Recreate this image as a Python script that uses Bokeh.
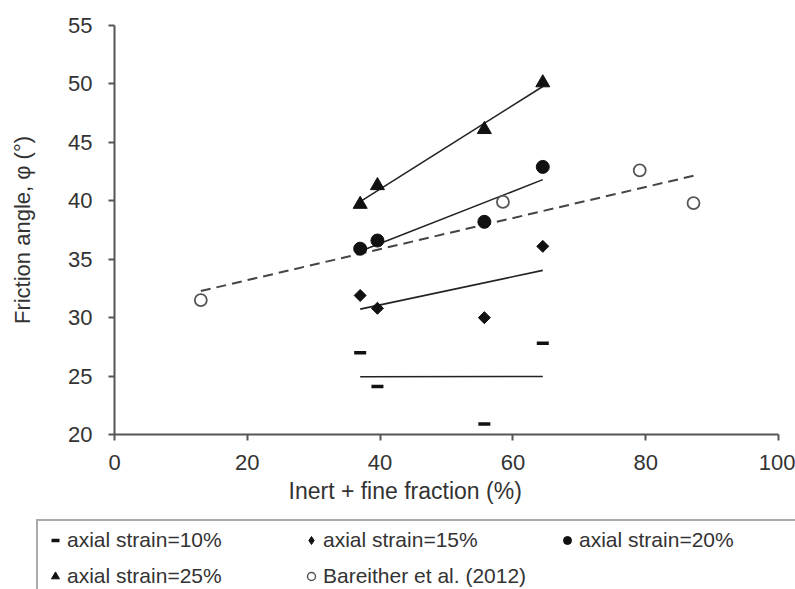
import numpy as np
from bokeh.plotting import figure
from bokeh.layouts import column, row
from bokeh.models import Range1d, FixedTicker, Legend, LegendItem, Title
from bokeh.embed import file_html
from bokeh.resources import INLINE

# ---- data ----
x_strain = [37.0, 39.6, 55.7, 64.5]
strain10 = [27.0, 24.1, 20.9, 27.8]
strain15 = [31.9, 30.8, 30.0, 36.1]
strain20 = [35.9, 36.6, 38.2, 42.9]
strain25 = [39.7, 41.3, 46.1, 50.1]
bareither_x = [13.0, 58.5, 79.1, 87.2]
bareither_y = [31.5, 39.9, 42.6, 39.8]

x_ticks = [0, 20, 40, 60, 80, 100]
y_ticks = [20, 25, 30, 35, 40, 45, 50, 55]

labels = ["axial strain=10%", "axial strain=15%", "axial strain=20%",
          "axial strain=25%", "Bareither et al. (2012)"]
x_title = "Inert + fine fraction (%)"
y_title = "Friction angle, \u03c6 (\u00b0)"

FONT = "Liberation Sans"
TXT = "#333333"
AX = "#555555"
MK = "#111111"

# marker styles for the five series (plot, legend)
styles = [
    dict(marker="dash", size=12, line_color=MK, line_width=3.5),
    dict(marker="square", angle=np.pi / 4, size=8.5, fill_color=MK, line_color=MK),
    dict(marker="circle", size=13, fill_color=MK, line_color=MK),
    dict(marker="triangle", size=14, fill_color=MK, line_color=MK),
    dict(marker="circle", size=12, fill_color="white", line_color="#555555", line_width=1.8),
]
legend_styles = [
    dict(marker="dash", size=10, line_color=MK, line_width=3.5),
    dict(marker="diamond", size=12, fill_color=MK, line_color=MK),
    dict(marker="circle", size=10, fill_color=MK, line_color=MK),
    dict(marker="triangle", size=10, fill_color=MK, line_color=MK),
    dict(marker="circle", size=10, fill_color="white", line_color="#555555", line_width=1.5),
]

p = figure(width=795, height=515, output_backend="svg", toolbar_location=None,
           x_range=Range1d(0, 100), y_range=Range1d(20, 55),
           min_border_left=114, min_border_right=17, min_border_top=25,
           min_border_bottom=81)
p.outline_line_color = None
p.xgrid.visible = False
p.ygrid.visible = False

for ax, ticks in ((p.xaxis, x_ticks), (p.yaxis, y_ticks)):
    ax.ticker = FixedTicker(ticks=ticks)
    ax.minor_tick_line_color = None
    ax.axis_line_color = AX
    ax.axis_line_width = 2
    ax.major_tick_line_color = AX
    ax.major_tick_line_width = 2
    ax.major_tick_in = 0
    ax.major_tick_out = 6
    ax.major_label_text_font = FONT
    ax.major_label_text_font_size = "22px"
    ax.major_label_text_color = TXT
p.yaxis.major_label_standoff = 16
p.xaxis.major_label_standoff = 14

p.yaxis.axis_label = y_title
p.yaxis.axis_label_text_font = FONT
p.yaxis.axis_label_text_font_size = "22px"
p.yaxis.axis_label_text_font_style = "normal"
p.yaxis.axis_label_text_color = TXT
p.yaxis.axis_label_standoff = 30

p.add_layout(Title(text=x_title, align="left", offset=174, standoff=7,
                   text_font=FONT, text_font_size="23px",
                   text_font_style="normal", text_color=TXT), "below")

# trend lines (least squares fits of each series)
def fit_line(xs, ys):
    k, b = np.polyfit(xs, ys, 1)
    xe = np.array([min(xs), max(xs)])
    return xe, k * xe + b

for ys in (strain10, strain15, strain20, strain25):
    xe, ye = fit_line(x_strain, ys)
    p.line(xe, ye, line_color="#222222", line_width=1.6)
xe, ye = fit_line(bareither_x, bareither_y)
p.line(xe, ye, line_color="#444444", line_width=2, line_dash="10 6")

series = [(x_strain, strain10), (x_strain, strain15), (x_strain, strain20),
          (x_strain, strain25), (bareither_x, bareither_y)]
for (xs, ys), st in zip(series, styles):
    p.scatter(xs, ys, **st)

# ---- legend panel ----
lg = figure(width=795, height=74, output_backend="svg", toolbar_location=None,
            x_range=Range1d(0, 1), y_range=Range1d(0, 1),
            x_axis_location=None, y_axis_location=None,
            min_border=0)
lg.outline_line_color = None
lg.xgrid.visible = False
lg.ygrid.visible = False
items = []
for lab, st in zip(labels, legend_styles):
    r = lg.scatter([-10], [-10], **st)
    items.append(LegendItem(label=lab, renderers=[r]))

legend = Legend(items=items, location=(36, -8), orientation="horizontal", ncols=3,
                label_text_font=FONT, label_text_font_size="21px",
                label_text_color=TXT, glyph_width=20, glyph_height=20,
                label_standoff=2, label_width=222, spacing=12, padding=7,
                margin=0, border_line_color=AX, border_line_width=2,
                background_fill_color="white", background_fill_alpha=1)
lg.add_layout(legend, "center")

layout = column(p, row(lg), spacing=0)
open("out.html", "w").write(file_html(layout, INLINE))
